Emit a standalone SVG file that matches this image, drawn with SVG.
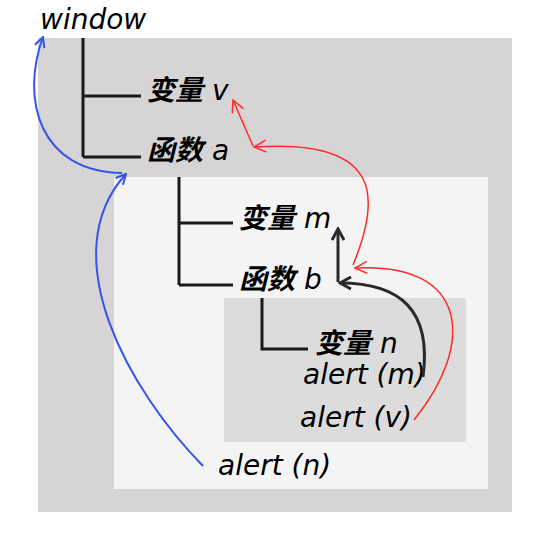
<svg xmlns="http://www.w3.org/2000/svg" width="550" height="550" viewBox="0 0 550 550">
<style>
.t{font-family:"DejaVu Sans","Noto Sans CJK SC",sans-serif;font-style:italic;font-size:28px;fill:#000}
.cjk{font-weight:bold}
.tree{stroke:#1a1a1a;stroke-width:3;fill:none}
.blue{stroke:#3355ee;stroke-width:2;fill:none}
.red{stroke:#ff2a2a;stroke-width:1.5;fill:none}
.blk{stroke:#2a2a2a;stroke-width:3;fill:none}
</style>
<defs>
<marker id="ab" viewBox="0 0 12 12" refX="11" refY="6" markerWidth="12" markerHeight="12" markerUnits="userSpaceOnUse" orient="auto"><path d="M1,1 L11,6 L1,11" fill="none" stroke="#3355ee" stroke-width="2"/></marker>
<marker id="ar" viewBox="0 0 14 14" refX="13" refY="7" markerWidth="14" markerHeight="14" markerUnits="userSpaceOnUse" orient="auto"><path d="M1,1 L13,7 L1,13" fill="none" stroke="#ff2a2a" stroke-width="1.5"/></marker>
<marker id="ak" viewBox="0 0 14 14" refX="12" refY="7" markerWidth="14" markerHeight="14" markerUnits="userSpaceOnUse" orient="auto"><path d="M1,1 L12,7 L1,13" fill="none" stroke="#2a2a2a" stroke-width="3"/></marker>
</defs>
<rect width="550" height="550" fill="#fff"/>
<g id="scope-window"><rect x="38" y="38" width="474" height="474" fill="#d6d4d5"/></g>
<g id="scope-a"><rect x="114" y="177" width="374" height="312" fill="#f4f4f4"/></g>
<g id="scope-b"><rect x="224" y="298" width="242" height="144" fill="#dcdcdc"/></g>
<g id="tree">
<path class="tree" d="M83,38 V157 M83,96 H141 M83,157 H141"/>
<path class="tree" d="M179,177 V285 M179,223 H233 M179,285 H233"/>
<path class="tree" d="M262,298 V349 H308"/>
</g>
<g id="n-window"><text class="t" x="40" y="29">window</text></g>
<g id="n-v"><text class="t" x="147" y="100"><tspan class="cjk">变量</tspan> v</text></g>
<g id="n-a"><text class="t" x="147" y="160"><tspan class="cjk">函数</tspan> a</text></g>
<g id="n-m"><text class="t" x="239" y="228"><tspan class="cjk">变量</tspan> m</text></g>
<g id="n-b"><text class="t" x="239" y="289"><tspan class="cjk">函数</tspan> b</text></g>
<g id="n-n"><text class="t" x="315" y="353"><tspan class="cjk">变量</tspan> n</text></g>
<g id="n-alert-m"><text class="t" x="303" y="384">alert (m)</text></g>
<g id="n-alert-v"><text class="t" x="300" y="427">alert (v)</text></g>
<g id="n-alert-n"><text class="t" x="218" y="475">alert (n)</text></g>
<g id="connectors">
<path class="blue" d="M203,466 C130,392 52,255 126,174" marker-end="url(#ab)"/>
<path class="blue" d="M122,173 C40,172 20,100 43,37" marker-end="url(#ab)"/>
<path class="red" d="M414,420 C475,345 470,262 355,268" marker-end="url(#ar)"/>
<path class="red" d="M353,265 C380,200 385,138 254,147" marker-end="url(#ar)"/>
<path class="red" d="M253,146 L233,100" marker-end="url(#ar)"/>
<path class="blk" d="M423,377 C432,310 400,283 340,283" marker-end="url(#ak)"/>
<path class="blk" d="M338,282 V229" marker-end="url(#ak)"/>
</g>
</svg>
